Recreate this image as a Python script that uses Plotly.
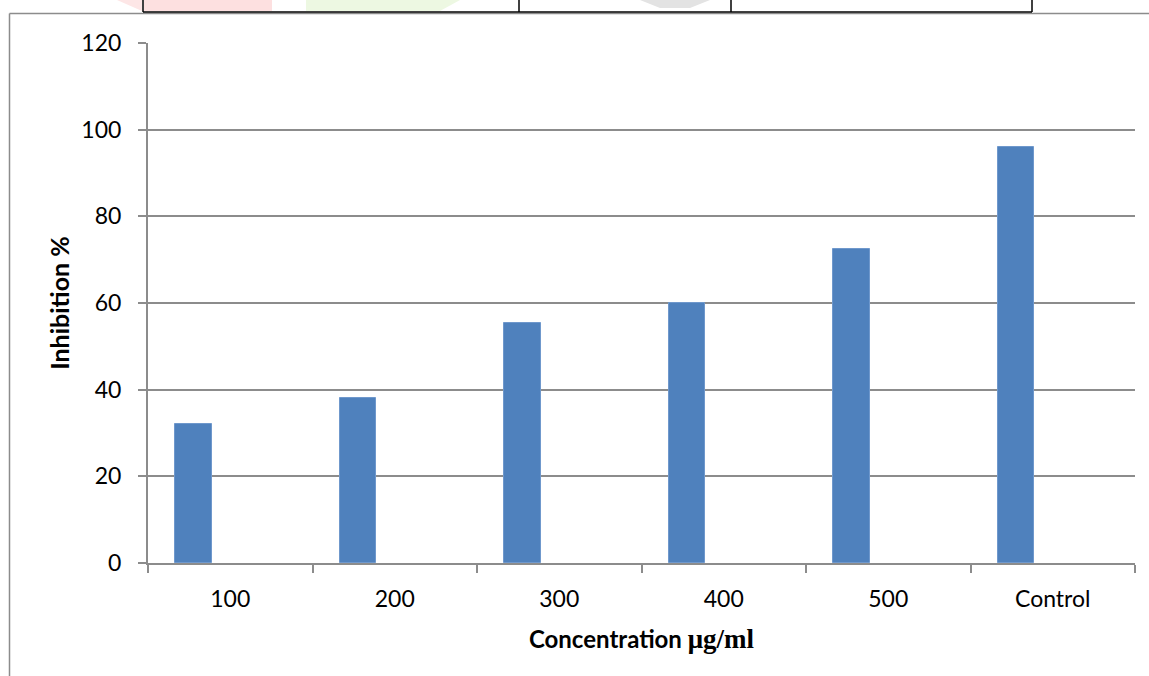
import plotly.graph_objects as go

# Inhibition (%) at each extract concentration
categories = ["100", "200", "300", "400", "500", "Control"]
inhibition = [32, 38, 55.5, 60, 72.5, 96]
y_ticks = [0, 20, 40, 60, 80, 100, 120]

W, H = 1149, 676
L, R, T, B = 148, 1135, 43, 563  # plot area in pixels


def px(x):
    return (x - L) / (R - L)


def py(y):
    return (B - y) / (B - T)


fig = go.Figure()
fig.add_trace(go.Bar(
    x=categories,
    y=inhibition,
    width=0.222,
    offset=-0.333,
    marker=dict(color="#4F81BD", line=dict(color="#6f98cc", width=1)),
    showlegend=False,
    hoverinfo="x+y",
))

grid_col = "#8c8c8c"
tick_font = dict(family="Lato, Open Sans, sans-serif", size=23, color="#000000")

fig.update_layout(
    width=W, height=H,
    margin=dict(l=L, r=W - R, t=T, b=H - B),
    paper_bgcolor="white",
    plot_bgcolor="white",
    bargap=0,
    xaxis=dict(
        type="category",
        range=[-0.5, 5.5],
        showline=True, linecolor=grid_col, linewidth=2,
        ticks="outside", tickson="boundaries", ticklen=8,
        tickcolor=grid_col, tickwidth=2,
        showgrid=False,
        tickfont=tick_font,
        ticklabelstandoff=14,
        title=dict(
            text="<b>Concentration </b><span style='font-family:Liberation Serif, DejaVu Serif, serif;font-size:27px'><b>μg/ml</b></span>",
            font=dict(family="Lato, Open Sans, sans-serif", size=24, color="#000000"),
            standoff=21,
        ),
    ),
    yaxis=dict(
        range=[0, 120],
        tickvals=y_ticks,
        showline=True, linecolor=grid_col, linewidth=2,
        ticks="outside", ticklen=8, tickcolor=grid_col, tickwidth=2,
        showgrid=True, gridcolor=grid_col, gridwidth=2,
        zeroline=False,
        tickfont=tick_font,
        ticklabelstandoff=12,
        title=dict(
            text="<b>Inhibition %</b>",
            font=dict(family="Lato, Open Sans, sans-serif", size=25, color="#000000"),
            standoff=5,
        ),
    ),
)

shapes = []
# surrounding chart frame (left and top edges)
shapes.append(dict(type="line", xref="paper", yref="paper",
                   x0=px(9.5), x1=px(1149), y0=py(13.5), y1=py(13.5),
                   line=dict(color="#8c8c8c", width=1.5), layer="below"))
shapes.append(dict(type="line", xref="paper", yref="paper",
                   x0=px(9.5), x1=px(9.5), y0=py(13.5), y1=py(676),
                   line=dict(color="#8c8c8c", width=1.5), layer="below"))
# faint watermark fills in the table row above
shapes.append(dict(type="rect", xref="paper", yref="paper",
                   x0=px(144), x1=px(272), y0=py(0), y1=py(11),
                   fillcolor="#fde0e0", line=dict(width=0), layer="below"))
shapes.append(dict(type="path", xref="paper", yref="paper",
                   path=f"M {px(117)} {py(0)} L {px(142)} {py(0)} L {px(142)} {py(11)} Z",
                   fillcolor="#fde6e6", line=dict(width=0), layer="below"))
shapes.append(dict(type="path", xref="paper", yref="paper",
                   path=f"M {px(306)} {py(0)} L {px(460)} {py(0)} L {px(440)} {py(11)} L {px(306)} {py(11)} Z",
                   fillcolor="#edf8e2", line=dict(width=0), layer="below"))
shapes.append(dict(type="path", xref="paper", yref="paper",
                   path=f"M {px(640)} {py(0)} L {px(710)} {py(0)} L {px(690)} {py(8)} L {px(660)} {py(8)} Z",
                   fillcolor="#e3e3e3", line=dict(width=0), layer="below"))
# table lines from the row above
shapes.append(dict(type="line", xref="paper", yref="paper",
                   x0=px(143), x1=px(1032), y0=py(12), y1=py(12),
                   line=dict(color="#000000", width=1.5)))
for xv in [143, 519, 731, 1032]:
    shapes.append(dict(type="line", xref="paper", yref="paper",
                       x0=px(xv), x1=px(xv), y0=py(0), y1=py(12),
                       line=dict(color="#000000", width=1.5)))
fig.update_layout(shapes=shapes)

fig.write_html("out.html")
